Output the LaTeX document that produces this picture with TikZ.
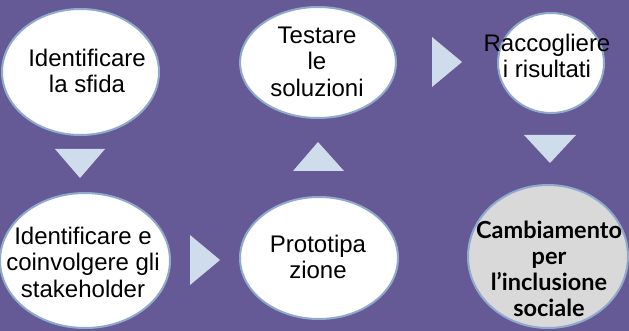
\documentclass[tikz,border=0pt]{standalone}
\usepackage{fontspec}
\setmainfont{Liberation Sans}
\newfontfamily\latofont{Lato}
\usetikzlibrary{shapes.geometric}

\definecolor{bgpurple}{RGB}{101,90,150}
\definecolor{tripale}{RGB}{207,220,236}
\definecolor{rimblue}{RGB}{143,170,204}
\definecolor{goalgrey}{RGB}{217,217,217}

\tikzset{
  bubble/.style={ellipse, draw=rimblue, line width=2pt, fill=white, inner sep=0pt},
  goal/.style={bubble, fill=goalgrey},
  bubbletext/.style={align=center, inner sep=0pt, font=\fontsize{24}{26.5}\selectfont},
  goaltext/.style={align=center, inner sep=0pt, font=\latofont\bfseries\fontsize{23.5}{26}\selectfont},
  arrowtri/.style={fill=tripale}
}

\begin{document}
\begin{tikzpicture}[x=1pt, y=-1pt]
            \fill[bgpurple] (0,0) rectangle (629,331);
            \useasboundingbox (0,0) rectangle (629,331);
            % the six steps
            \begin{scope}
              \node[bubble, minimum width=157pt, minimum height=126pt] (sfida) at (80.5,72) {};
              \node[bubble, minimum width=170pt, minimum height=135pt] (stake) at (85,260.5) {};
              \node[bubble, minimum width=158pt, minimum height=122pt] (proto) at (319,258) {};
              \node[bubble, minimum width=156pt, minimum height=111pt] (test) at (318,62.5) {};
              \node[bubble, minimum width=106pt, minimum height=100pt] (racc) at (551,63) {};
              \node[goal, minimum width=160pt, minimum height=143pt] (camb) at (548,256.5) {};
            \end{scope}
            \begin{scope}
              \node[bubbletext] (sfida-t) at (87,71) {Identificare\\la sfida};
              \node[bubbletext] (stake-t) at (83,262) {Identificare e\\coinvolgere gli\\stakeholder};
              \node[bubbletext] (proto-t) at (318,257) {Prototipa\\zione};
              \node[bubbletext] (test-t) at (317,61.5) {Testare\\le\\soluzioni};
              \node[bubbletext] (racc-t) at (547,56) {Raccogliere\\i risultati};
              \node[goaltext] (camb-t) at (549,269) {Cambiamento\\per\\l’inclusione\\sociale};
            \end{scope}
            % arrows between the steps
            \begin{scope}[arrowtri]
              \fill (55,149) -- (105,149) -- (80,178) -- cycle;
              \fill (190,235) -- (190,285) -- (220,260) -- cycle;
              \fill (293,171) -- (344,171) -- (318,142) -- cycle;
              \fill (432,37) -- (432,87) -- (462,62) -- cycle;
              \fill (524,135) -- (576,135) -- (550,163) -- cycle;
            \end{scope}
\end{tikzpicture}
\end{document}
